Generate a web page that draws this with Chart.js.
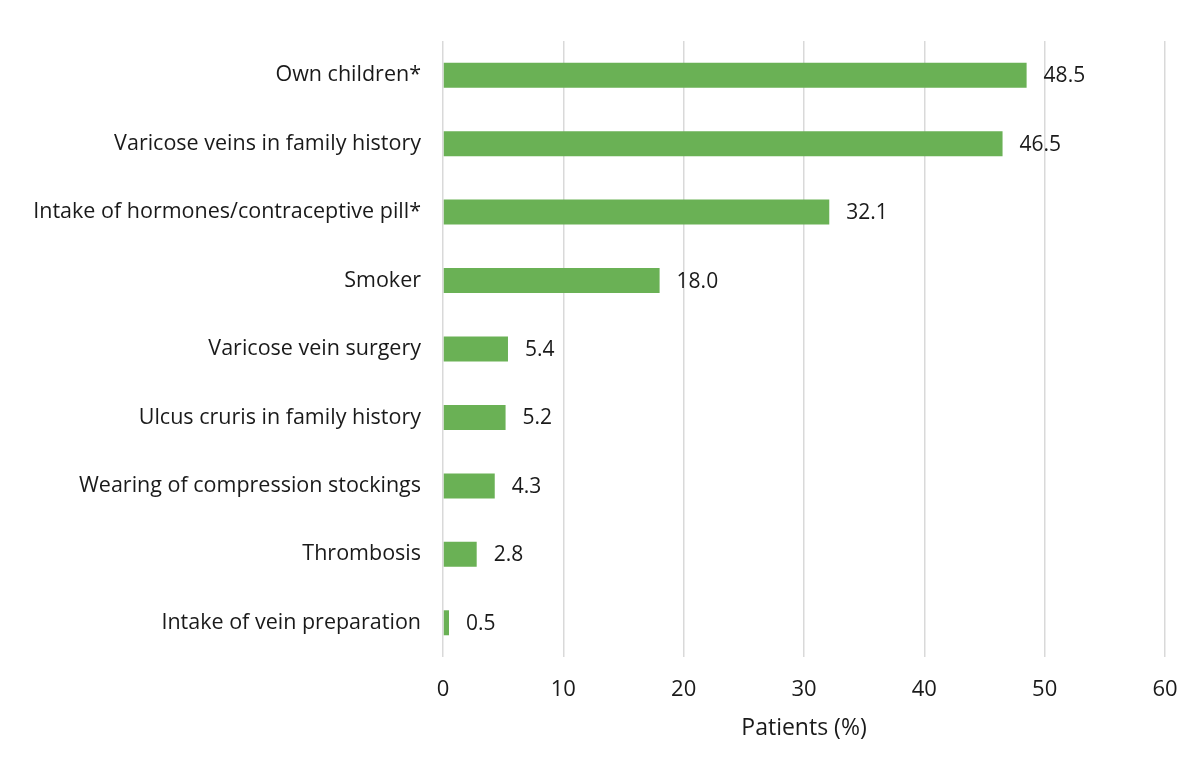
<!DOCTYPE html>
<html>
<head>
<meta charset="utf-8">
<script src="https://cdn.jsdelivr.net/npm/chart.js@4/dist/chart.umd.min.js"></script>
<style>
  html, body { margin: 0; padding: 0; background: #ffffff; }
  #wrap { width: 1202px; height: 770px; position: relative; }
</style>
</head>
<body>
<div id="wrap"><canvas id="c"></canvas></div>
<script>
const categories = [
  "Own children*",
  "Varicose veins in family history",
  "Intake of hormones/contraceptive pill*",
  "Smoker",
  "Varicose vein surgery",
  "Ulcus cruris in family history",
  "Wearing of compression stockings",
  "Thrombosis",
  "Intake of vein preparation"
];
const patientsPct = [48.5, 46.5, 32.1, 18.0, 5.4, 5.2, 4.3, 2.8, 0.5];
const xTicks = [0, 10, 20, 30, 40, 50, 60];
const xTitle = "Patients (%)";

const FONT = "'Open Sans', 'Liberation Sans', sans-serif";
const TEXT = "#1a1a1a";

const valueLabels = {
  id: 'valueLabels',
  afterDatasetsDraw(chart) {
    const ctx = chart.ctx;
    const meta = chart.getDatasetMeta(0);
    ctx.save();
    ctx.font = "21px " + FONT;
    ctx.fillStyle = TEXT;
    ctx.textAlign = 'left';
    ctx.textBaseline = 'middle';
    meta.data.forEach((bar, i) => {
      ctx.fillText(patientsPct[i].toFixed(1), bar.x + 17, bar.y + 1);
    });
    ctx.restore();
  }
};

new Chart(document.getElementById('c'), {
  type: 'bar',
  data: {
    labels: categories,
    datasets: [{
      data: patientsPct,
      backgroundColor: '#6ab155',
      borderWidth: 0,
      barPercentage: 0.365,
      categoryPercentage: 1.0
    }]
  },
  plugins: [valueLabels],
  options: {
    indexAxis: 'y',
    responsive: true,
    maintainAspectRatio: false,
    animation: false,
    layout: { padding: { top: 41, right: 37, bottom: 20, left: 0 } },
    plugins: { legend: { display: false }, tooltip: { enabled: false } },
    scales: {
      x: {
        min: 0, max: 60,
        afterBuildTicks(scale) { scale.ticks = xTicks.map(v => ({ value: v })); },
        afterFit(scale) { scale.height = 770 - 657 - 20; },
        grid: { color: '#d9d9d9', lineWidth: 1.5, drawTicks: false },
        border: { display: false },
        ticks: { font: { family: FONT, size: 22 }, color: TEXT, padding: 20, maxRotation: 0 },
        title: { display: true, text: xTitle, font: { family: FONT, size: 23 }, color: TEXT, padding: { top: 0, bottom: 8 } }
      },
      y: {
        afterFit(scale) { scale.width = 443; },
        grid: { display: false, drawTicks: false },
        border: { display: false },
        ticks: { font: { family: FONT, size: 21.5 }, color: TEXT, padding: 22, autoSkip: false }
      }
    }
  }
});
</script>
</body>
</html>
